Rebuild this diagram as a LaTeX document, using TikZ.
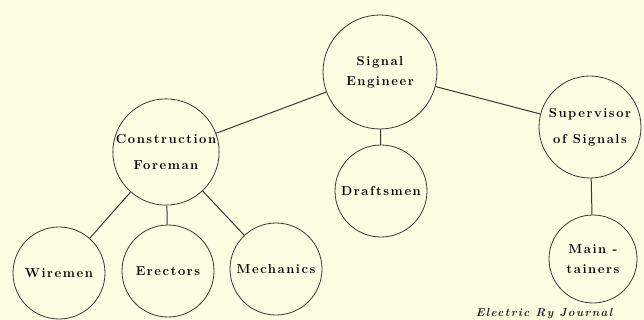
\documentclass[tikz,border=0pt]{standalone}
\usepackage{fontspec}
\setmainfont{Latin Modern Roman}
\newfontfamily\labelfont{Latin Modern Roman}[LetterSpace=12]
\definecolor{paper}{RGB}{252,252,226}
\colorlet{ink}{black!78}
\tikzset{role/.style={circle, draw=ink, line width=0.8pt, inner sep=0pt,
        minimum size=92pt, align=center, text=black,
        font=\labelfont\bfseries\fontsize{13}{20}\selectfont},
    link/.style={draw=ink, line width=1pt}}

\begin{document}
\begin{tikzpicture}[x=1pt, y=-1pt]
    \fill[paper] (0,0) rectangle (644,320);
    \clip (0,0) rectangle (644,320);
    % top of the tree
    \node[role, minimum size=114pt] (eng) at (380,72) {Signal\\Engineer};
    \node[role, minimum size=104pt] (fore) at (166,152) {Construction\\[6pt]Foreman};
    \node[role] (draft) at (381,191) {Draftsmen};
    \node[role, minimum size=102pt] (super) at (590,127) {Supervisor\\[6pt]of Signals};
    % bottom row
    \node[role] (wire) at (59,273) {Wiremen};
    \node[role] (erect) at (168,271) {Erectors};
    \node[role] (mech) at (276,269) {Mechanics};
    \node[role, minimum size=88pt] (maint) at (593,259) {Main -\\tainers};
    \draw[link] (eng) -- (fore);
    \draw[link] (eng) -- (draft);
    \draw[link] (eng) -- (super);
    \draw[link] (fore) -- (wire);
    \draw[link] (fore) -- (erect);
    \draw[link] (fore) -- (mech);
    \draw[link] (super) -- (maint);
    \node[anchor=base, text=black!85, font=\labelfont\bfseries\itshape\fontsize{11.5}{11.5}\selectfont]
        (credit) at (544,316) {Electric Ry Journal};
\end{tikzpicture}
\end{document}
